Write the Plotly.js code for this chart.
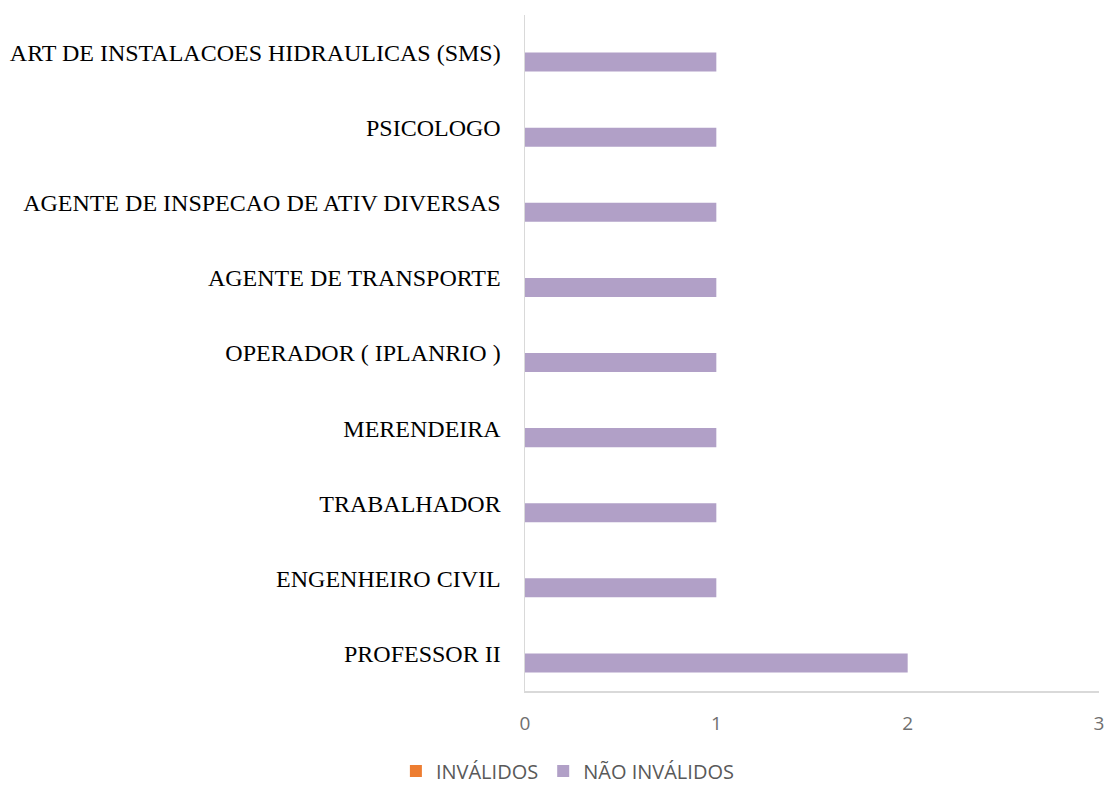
<!DOCTYPE html>
<html>
<head>
<meta charset="utf-8">
<script src="https://cdn.plot.ly/plotly-3.0.1.min.js"></script>
<style>html,body{margin:0;padding:0;background:#fff;}#chart{width:1107px;height:786px;}</style>
</head>
<body>
<div id="chart"></div>
<script>
const categories = [
  "PROFESSOR II",
  "ENGENHEIRO CIVIL",
  "TRABALHADOR",
  "MERENDEIRA",
  "OPERADOR ( IPLANRIO )",
  "AGENTE DE TRANSPORTE",
  "AGENTE DE INSPECAO DE ATIV DIVERSAS",
  "PSICOLOGO",
  "ART DE INSTALACOES HIDRAULICAS (SMS)"
];
const invalidos = [0, 0, 0, 0, 0, 0, 0, 0, 0];
const naoInvalidos = [2, 1, 1, 1, 1, 1, 1, 1, 1];
const xTicks = [0, 1, 2, 3];

const traces = [
  {
    type: 'bar', orientation: 'h', name: 'NÃO INVÁLIDOS',
    y: categories, x: naoInvalidos,
    marker: {color: '#b1a0c7'}, legendrank: 2, hoverinfo: 'x+y'
  },
  {
    type: 'bar', orientation: 'h', name: 'INVÁLIDOS',
    y: categories, x: invalidos,
    marker: {color: '#ed7d31'}, legendrank: 1, hoverinfo: 'x+y'
  }
];

const layout = {
  width: 1107, height: 786,
  margin: {l: 525, r: 8, t: 15, b: 95, pad: 0},
  paper_bgcolor: '#ffffff', plot_bgcolor: '#ffffff',
  barmode: 'group', bargap: 0.493, bargroupgap: 0,
  showlegend: true,
  legend: {
    orientation: 'h', xref: 'container', yref: 'container',
    x: 0.513, xanchor: 'center', y: 0.019, yanchor: 'middle',
    font: {family: 'Open Sans, Liberation Sans, sans-serif', size: 20, color: '#595959'},
    tracegroupgap: 0
  },
  xaxis: {
    range: [0, 3], tickvals: xTicks, ticktext: xTicks.map(String),
    showgrid: false, zeroline: false,
    showline: true, linecolor: '#d9d9d9', linewidth: 1.5,
    ticks: '', ticklabelstandoff: 15,
    tickfont: {family: 'Open Sans, Liberation Sans, sans-serif', size: 19, color: '#6f6f6f'},
    fixedrange: true
  },
  yaxis: {
    type: 'category', categoryorder: 'array', categoryarray: categories,
    showgrid: false, zeroline: false,
    showline: true, linecolor: '#d9d9d9', linewidth: 1.5,
    ticks: '', ticklabelstandoff: 18,
    tickfont: {family: 'Liberation Serif, Times New Roman, serif', size: 24, color: '#000000'},
    fixedrange: true
  }
};

Plotly.newPlot('chart', traces, layout, {displayModeBar: false, staticPlot: true});
</script>
</body>
</html>
